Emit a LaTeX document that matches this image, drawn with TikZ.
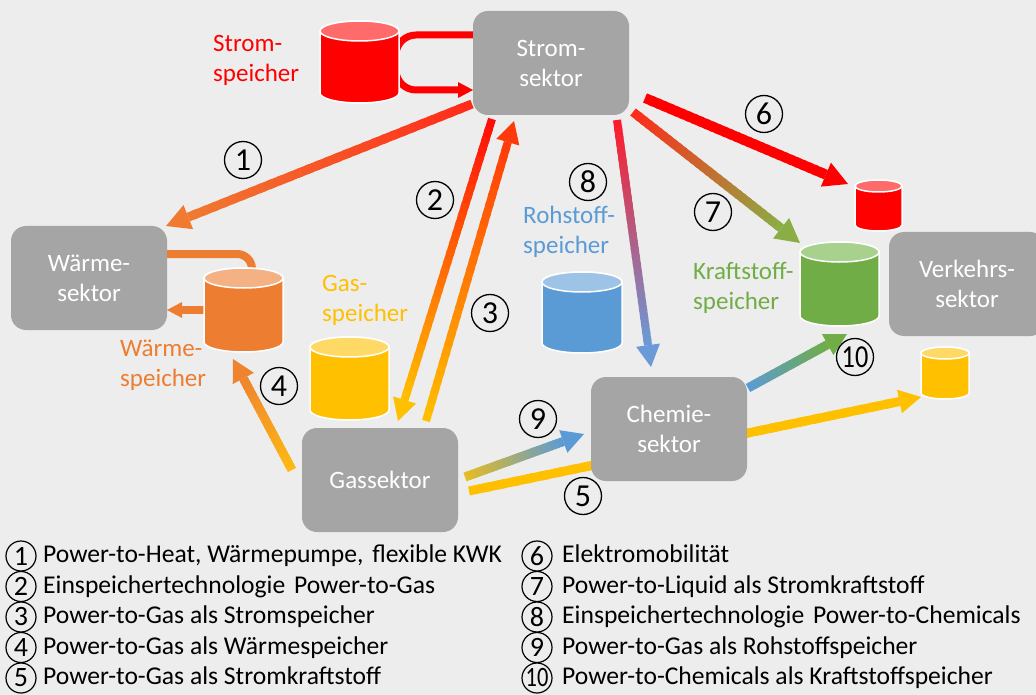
\documentclass[tikz,border=0pt]{standalone}
\usepackage{fontspec}
\setmainfont{Carlito}
\usepackage{graphicx}
\usetikzlibrary{calc}

% palette
\definecolor{bggray}{HTML}{EDEDED}
\definecolor{boxgray}{HTML}{A5A5A5}
\definecolor{strred}{HTML}{FF0000}
\definecolor{strredtop}{HTML}{FF6B6B}
\definecolor{heat}{HTML}{ED7D31}
\definecolor{heattop}{HTML}{F4B183}
\definecolor{gasyel}{HTML}{FFC000}
\definecolor{gasyeltop}{HTML}{FFD966}
\definecolor{rohblau}{HTML}{5B9BD5}
\definecolor{rohblautop}{HTML}{9DC3E6}
\definecolor{fuelgrn}{HTML}{70AD47}
\definecolor{fuelgrntop}{HTML}{A9D18E}
% gradient end colours of the connectors
\definecolor{redorange}{HTML}{FF2A1A}
\definecolor{heatend}{HTML}{F07A30}
\definecolor{hotred}{HTML}{FF0A0A}
\definecolor{hotorange}{HTML}{FF3A0A}
\definecolor{warmyel}{HTML}{FFBA10}
\definecolor{warmorange}{HTML}{EE8430}
\definecolor{olive}{HTML}{8AAE45}
\definecolor{pinkred}{HTML}{FF1A2A}
\definecolor{skyblue}{HTML}{6A9BD8}
\definecolor{mustard}{HTML}{E8BC20}

\tikzset{
  sektor/.style={rounded corners=15pt, fill=boxgray, text=white,
    font=\fontsize{25}{30}\selectfont, align=center,
    minimum width=156pt, minimum height=104pt, inner sep=0pt},
  lbl/.style={font=\fontsize{25}{30}\selectfont, align=left, inner sep=0pt, anchor=west},
  num/.style={circle, draw=black, line width=1.3pt, minimum size=37pt, inner sep=0pt,
    font=\fontsize{32}{32}\selectfont},
  lnum/.style={circle, draw=black, line width=1.2pt, minimum size=30pt, inner sep=0pt,
    font=\fontsize{28}{28}\selectfont},
  legtxt/.style={anchor=west, inner sep=0pt, font=\fontsize{25.6}{30}\selectfont,
    text height=18pt, text depth=5pt},
  cylline/.style={draw=white, line width=1.5pt},
}

% tapered connector: shaft blended from tail colour to tip colour, solid head
% [shaft width]{tail}{tip}{tail colour}{tip colour}{head length}{head half width}
\newcommand\gradarrow[7][9pt]{%
  \coordinate (gh) at ($(#3)!#6!(#2)$);
  \foreach \k in {0,...,29}{%
    \pgfmathsetmacro\ta{\k/30}%
    \pgfmathsetmacro\tb{min(1,(\k+1.5)/30)}%
    \pgfmathsetmacro\pc{100-100*(\k+0.5)/30}%
    \colorlet{segcol}{#4!\pc!#5}%
    \draw[line width=#1, segcol] ($(#2)!\ta!(gh)$) -- ($(#2)!\tb!(gh)$);
  }
  \fill[#5] (#3) -- ($(gh)!#7!90:(#3)$) -- ($(gh)!#7!-90:(#3)$) -- cycle;
}

% storage cylinder: {name}{left}{top}{right}{bottom}{ellipse radius}{colour}
\newcommand\drawcyl[7]{%
  \pgfmathsetmacro\cx{(#2+#4)/2}%
  \pgfmathsetmacro\rx{(#4-#2)/2}%
  \filldraw[cylline, fill=#7] (#2,#3+#6) -- (#2,#5-#6)
    arc[start angle=180, end angle=0, x radius=\rx, y radius=#6] -- (#4,#3+#6)
    arc[start angle=0, end angle=-180, x radius=\rx, y radius=#6] -- cycle;
  \filldraw[cylline, fill=#7top] (\cx,#3+#6) ellipse[x radius=\rx, y radius=#6];
  \coordinate (#1) at (\cx,{(#3+#5)/2});
}

\begin{document}
\begin{tikzpicture}[x=1pt, y=-1pt]
\clip (0,0) rectangle (1036,695);
\fill[bggray] (0,0) rectangle (1036,695);

% connector endpoints
\coordinate (t1) at (472,104);  \coordinate (h1) at (166,226);
\coordinate (t2) at (492,119);  \coordinate (h2) at (398,421);
\coordinate (t3) at (426,421);  \coordinate (h3) at (514,121);
\coordinate (t4) at (292,470);  \coordinate (h4) at (233,359);
\coordinate (t5) at (469,491);  \coordinate (h5) at (921,397);
\coordinate (t6) at (645,98);   \coordinate (h6) at (848,184);
\coordinate (t7) at (633,112);  \coordinate (h7) at (800,243);
\coordinate (t8) at (617,120);  \coordinate (h8) at (651,367);
\coordinate (t9) at (465,477);  \coordinate (h9) at (584,434);
\coordinate (t10) at (748,388); \coordinate (h10) at (847,334);

% gas into fuel storage runs behind the chemistry box
\gradarrow{t5}{h5}{gasyel}{gasyel}{22pt}{12pt}

% electricity storage loop
\coordinate (sOut) at (474,35);
\coordinate (sIn) at (473,90);
\draw[strred, line width=7pt, rounded corners=20pt] (sOut) -- (396,35) -- (396,90) -- (460,90);
\fill[strred] (sIn) -- (458,82) -- (458,98) -- cycle;

% heat storage loop
\coordinate (wOut) at (166,254);
\draw[heat, line width=8pt, rounded corners=15pt] (wOut) -- (252,254) -- (252,282);
\coordinate (wT) at (205,310);
\coordinate (wH) at (167,310);
\gradarrow[8pt]{wT}{wH}{heat}{heat}{15pt}{8pt}

% sectors
\node[sektor] (strom)   at (551,63)  {Strom-\\sektor};
\node[sektor] (waerme)  at (89,278)  {Wärme-\\sektor};
\node[sektor] (gas)     at (380,480) {Gassektor};
\node[sektor] (chemie)  at (669,429) {Chemie-\\sektor};
\node[sektor] (verkehr) at (967,284) {Verkehrs-\\sektor};

% storages
\drawcyl{cStrom}{320}{21}{399}{103}{10}{strred}
\drawcyl{cWaerme}{204}{268}{283}{352}{10}{heat}
\drawcyl{cGas}{310}{337}{389}{420}{10}{gasyel}
\drawcyl{cRoh}{542}{272}{622}{353}{10}{rohblau}
\drawcyl{cBatt}{855}{180}{902}{231}{6}{strred}
\drawcyl{cKraft}{800}{242}{879}{326}{10}{fuelgrn}
\drawcyl{cTank}{921}{347}{969}{399}{6}{gasyel}

% coupling paths
\gradarrow{t1}{h1}{redorange}{heatend}{24pt}{13pt}
\gradarrow[8pt]{t2}{h2}{hotred}{gasyel}{22pt}{12pt}
\gradarrow[8pt]{t3}{h3}{gasyel}{hotorange}{22pt}{12pt}
\gradarrow{t4}{h4}{warmyel}{warmorange}{22pt}{12pt}
\gradarrow[10pt]{t6}{h6}{strred}{strred}{24pt}{13pt}
\gradarrow{t7}{h7}{redorange}{olive}{24pt}{13pt}
\gradarrow[8pt]{t8}{h8}{pinkred}{skyblue}{22pt}{12pt}
\gradarrow{t9}{h9}{mustard}{rohblau}{22pt}{12pt}
\gradarrow{t10}{h10}{rohblau}{fuelgrn}{22pt}{12pt}

% storage labels
\node[lbl, text=strred]  (lStrom)  at (213,60)  {Strom-\\speicher};
\node[lbl, text=heat]    (lWaerme) at (120,365) {Wärme-\\speicher};
\node[lbl, text=gasyel]  (lGas)    at (322,300) {Gas-\\speicher};
\node[lbl, text=rohblau] (lRoh)    at (523,232) {Rohstoff-\\speicher};
\node[lbl, text=fuelgrn] (lKraft)  at (693,288) {Kraftstoff-\\speicher};

% path numbers
\node[num] (n1) at (243,160) {1};
\node[num] (n2) at (435,200) {2};
\node[num] (n3) at (490,313) {3};
\node[num] (n4) at (279,386) {4};
\node[num] (n5) at (583,496) {5};
\node[num] (n6) at (764,114) {6};
\node[num] (n7) at (713,212) {7};
\node[num] (n8) at (588,182) {8};
\node[num] (n9) at (538,419) {9};
\node[num] (n10) at (855,357) {\scalebox{0.82}[1]{10}};

% legend
\node[lnum] (k1) at (21,556)   {1};
\node[lnum] (k2) at (21,586.5) {2};
\node[lnum] (k3) at (21,617)   {3};
\node[lnum] (k4) at (21,647.5) {4};
\node[lnum] (k5) at (21,678)   {5};
\node[legtxt] (e1) at (43,556)   {Power-to-Heat, Wärmepumpe,\hspace{3pt} flexible KWK};
\node[legtxt] (e2) at (43,586.5) {Einspeichertechnologie\hspace{3pt} Power-to-Gas};
\node[legtxt] (e3) at (43,617)   {Power-to-Gas als Stromspeicher};
\node[legtxt] (e4) at (43,647.5) {Power-to-Gas als Wärmespeicher};
\node[legtxt] (e5) at (43,678)   {Power-to-Gas als Stromkraftstoff};

\node[lnum] (k6) at (537,556)   {6};
\node[lnum] (k7) at (537,586.5) {7};
\node[lnum] (k8) at (537,617)   {8};
\node[lnum] (k9) at (537,647.5) {9};
\node[lnum] (k10) at (537,678)  {\scalebox{0.8}[1]{10}};
\node[legtxt] (e6) at (562,556)   {Elektromobilität};
\node[legtxt] (e7) at (562,586.5) {Power-to-Liquid als Stromkraftstoff};
\node[legtxt] (e8) at (562,617)   {Einspeichertechnologie\hspace{3pt} Power-to-Chemicals};
\node[legtxt] (e9) at (562,647.5) {Power-to-Gas als Rohstoffspeicher};
\node[legtxt] (e10) at (562,678)  {Power-to-Chemicals als Kraftstoffspeicher};
\end{tikzpicture}
\end{document}
